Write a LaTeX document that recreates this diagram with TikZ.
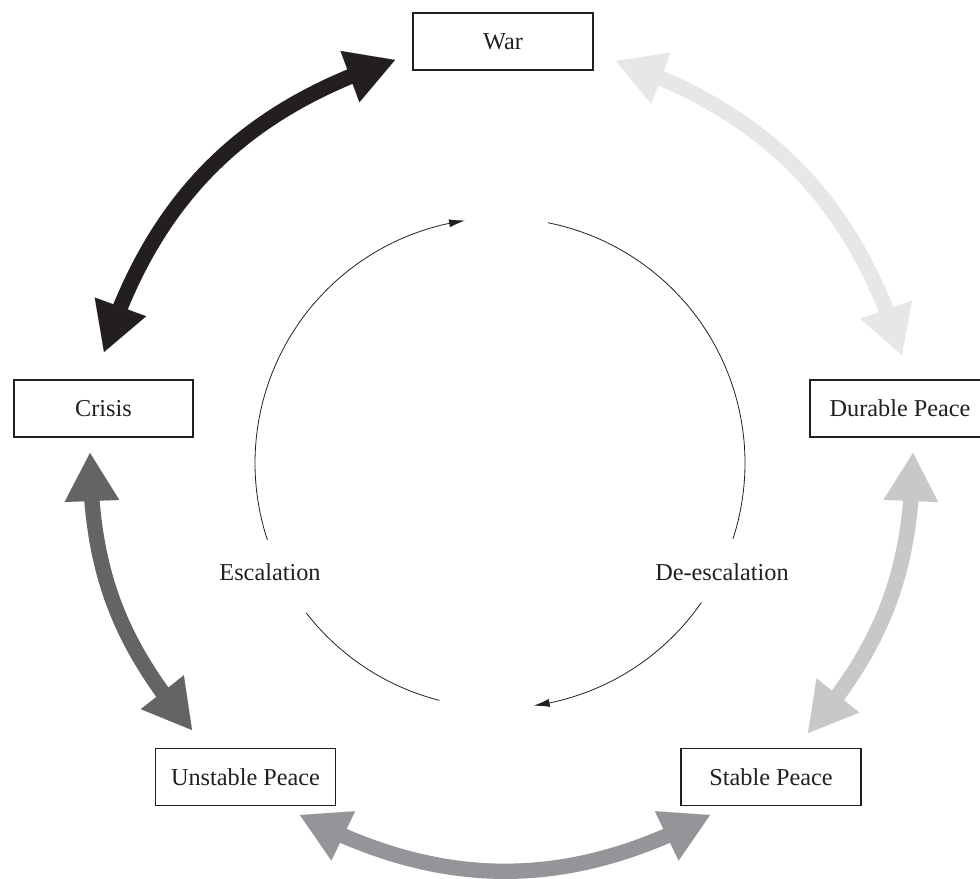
\documentclass[tikz,border=0pt]{standalone}
\usepackage{fontspec}
\setmainfont{Liberation Serif}
\usetikzlibrary{arrows.meta,bending,calc}
\definecolor{ink}{HTML}{231F20}
\definecolor{gA}{HTML}{231F20}
\definecolor{gB}{HTML}{E6E7E8}
\definecolor{gC}{HTML}{C7C8CA}
\definecolor{gD}{HTML}{939598}
\definecolor{gE}{HTML}{636466}
\begin{document}
\begin{tikzpicture}[x=0.75pt,y=0.75pt,
  box/.style={draw=ink, line width=0.9pt, fill=white, minimum width=135pt,
    minimum height=42.75pt, inner sep=0pt, text=ink,
    font=\fontsize{18.2}{21}\selectfont},
  lab/.style={text=ink, inner sep=0pt, font=\fontsize{18.2}{21}\selectfont},
  big/.style={line width=11.5pt,
    {Triangle[length=36pt,width=41pt,line width=0.01pt]}-{Triangle[length=36pt,width=41pt,line width=0.01pt]}},
  ring/.style={draw=ink, line width=0.6pt},
  ringtip/.style={ring, -{Latex[length=12pt,width=6pt]}}]
\useasboundingbox (0,0) rectangle (980,878);
\fill[white] (0,0) rectangle (980,878);

% boxes
\node[box] (war) at (503,836.5) {War};
\node[box, minimum width=134.25pt] (crisis) at (103.5,469.5) {Crisis};
\node[box] (durable) at (900,469.5) {Durable Peace};
\node[box] (unstable) at (245.5,101) {Unstable Peace};
\node[box] (stable) at (771,101) {Stable Peace};

% arrow end points
\coordinate (cw) at (104,526);
\coordinate (wc) at (395,818);
\coordinate (wd) at (616,817);
\coordinate (dw) at (902,523);
\coordinate (ds) at (913,425);
\coordinate (sd) at (808,145);
\coordinate (su) at (710,63);
\coordinate (us) at (300,63);
\coordinate (uc) at (192,148);
\coordinate (cu) at (90,425);

\draw[big, draw=gA] (cw) to[bend left=27] (wc);
\draw[big, draw=gB] (wd) to[bend left=27] (dw);
\draw[big, draw=gC] (ds) to[bend left=20] (sd);
\draw[big, draw=gD] (su) to[bend left=28] (us);
\draw[big, draw=gE] (uc) to[bend left=20] (cu);

% inner cycle
\coordinate (ctr) at (500,415);
\draw[ring] ($(ctr)+(255.7:245)$) arc[start angle=255.7, end angle=217.8, radius=183.75pt];
\draw[ringtip] ($(ctr)+(198.3:245)$) arc[start angle=198.3, end angle=98.2, radius=183.75pt];
\draw[ring] ($(ctr)+(78.7:245)$) arc[start angle=78.7, end angle=-18, radius=183.75pt];
\draw[ringtip] ($(ctr)+(-34.7:245)$) arc[start angle=-34.7, end angle=-82.1, radius=183.75pt];

\node[lab] (esc) at (270,306) {Escalation};
\node[lab] (desc) at (722,306) {De-escalation};
\end{tikzpicture}
\end{document}
